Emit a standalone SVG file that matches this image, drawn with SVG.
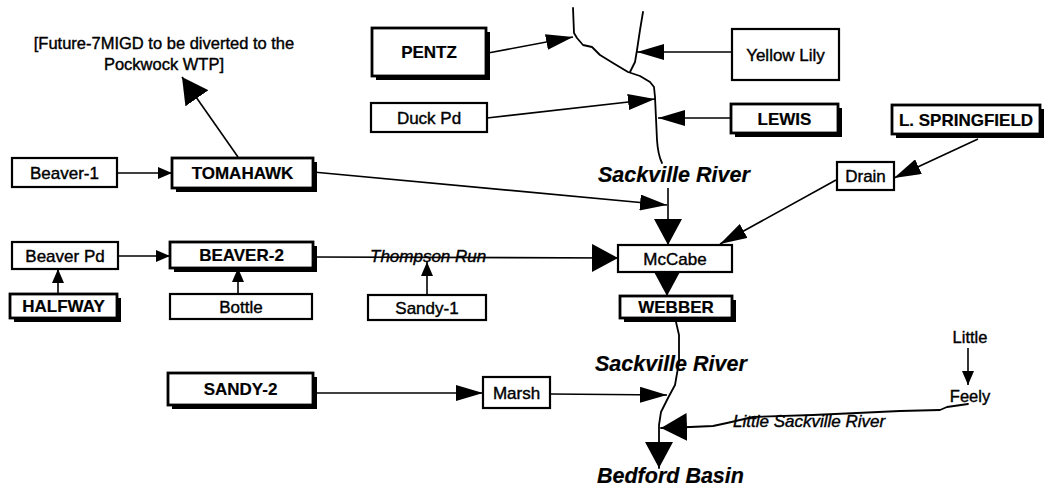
<svg xmlns="http://www.w3.org/2000/svg" width="1046" height="490" viewBox="0 0 1046 490">
<style>
text{font-family:"Liberation Sans",Arial,Helvetica,sans-serif;fill:#000;stroke:#000;stroke-width:0.4}
.n{font-size:17px;text-anchor:middle}
.b{font-weight:bold;stroke-width:0.2}
.bx{fill:#fff;stroke:#000;stroke-width:2.2}
.bb{fill:#fff;stroke:#000;stroke-width:2.8}
.sh{fill:#000}
.c{fill:none;stroke:#000;stroke-width:1.6}
.r{fill:none;stroke:#000;stroke-width:1.8;stroke-linejoin:round;stroke-linecap:round}
.riv{font-size:21.5px;font-weight:bold;font-style:italic;stroke-width:0.2}
.it{font-size:17px;font-style:italic}
.lab{font-size:16.5px}
</style>
<defs>
<marker id="arrS" markerUnits="userSpaceOnUse" viewBox="0 0 14 12" markerWidth="14" markerHeight="12" refX="14" refY="6" orient="auto"><path d="M0,0 L14,6 L0,12 z" fill="#000"/></marker>
<marker id="arrM" markerUnits="userSpaceOnUse" viewBox="0 0 27 16" markerWidth="27" markerHeight="16" refX="27" refY="8" orient="auto"><path d="M0,0 L27,8 L0,16 z" fill="#000"/></marker>
<marker id="arrL" markerUnits="userSpaceOnUse" viewBox="0 0 26 28" markerWidth="26" markerHeight="28" refX="26" refY="14" orient="auto"><path d="M0,0 L26,14 L0,28 z" fill="#000"/></marker>
</defs>
<rect width="1046" height="490" fill="#fff"/>

<g id="connectors">
<path class="c" d="M117,173 L172,173" marker-end="url(#arrS)"/>
<path class="c" d="M238,157 L182,77" marker-end="url(#arrL)"/>
<path class="c" d="M118,256 L170,256" marker-end="url(#arrS)"/>
<path class="c" d="M58,294 L58,269" marker-end="url(#arrS)"/>
<path class="c" d="M238,294 L238,268" marker-end="url(#arrS)"/>
<path class="c" d="M313,257 L618,258" marker-end="url(#arrL)"/>
<path class="c" d="M427,295 L427,262" marker-end="url(#arrS)"/>
<path class="c" d="M313,172 L667,205" marker-end="url(#arrM)"/>
<path class="c" d="M668,188 L668,245" marker-end="url(#arrL)"/>
<path class="c" d="M978,139 L894,178" marker-end="url(#arrM)"/>
<path class="c" d="M836,180 L720,244" marker-end="url(#arrM)"/>
<path class="c" d="M667,272 L667,296" marker-end="url(#arrL)"/>
<path class="c" d="M488,53 L573,37" marker-end="url(#arrM)"/>
<path class="c" d="M732,52 L637,52" marker-end="url(#arrM)"/>
<path class="c" d="M487,118 L655,99" marker-end="url(#arrM)"/>
<path class="c" d="M731,118 L658,118" marker-end="url(#arrM)"/>
<path class="c" d="M313,393 L483,393" marker-end="url(#arrM)"/>
<path class="c" d="M550,394 L667,395" marker-end="url(#arrM)"/>
<path class="c" d="M968,348 L968,385" marker-end="url(#arrS)"/>
<path class="r" d="M573,8 L574,33 L577,38 L583,45 L592,47 L600,55 L613,63 L628,72 L640,76 L650,82 L654,87 L655,97 L657,140 Q658,155 662,163"/>
<path class="r" d="M643,12 L640,30 L637,50 L635,62 L630,72"/>
<path class="r" d="M676,322 L679,335 L679,362 L675,385 L668,398 L661,412 L659,425 L659,468" marker-end="url(#arrL)"/>
<path class="r" d="M968,404 L947,407 L940,410 L900,411 L857,413 L813,415 L753,417 L727,423 L713,426 L690,427 L661,428" marker-end="url(#arrL)"/>
</g>

<g id="labels">
<text class="lab" x="164" y="49" text-anchor="middle" font-size="17">[Future-7MIGD to be diverted to the</text>
<text class="lab" x="164" y="70" text-anchor="middle" font-size="17">Pockwock WTP]</text>
<text class="riv" x="598" y="182">Sackville River</text>
<text class="riv" x="595" y="371">Sackville River</text>
<text class="riv" x="597" y="483" font-size="22">Bedford Basin</text>
<text class="it" x="370" y="262">Thompson Run</text>
<text class="it" x="733" y="427">Little Sackville River</text>
<text class="lab" x="970" y="343" text-anchor="middle">Little</text>
<text class="lab" x="970" y="402" text-anchor="middle">Feely</text>
</g>

<g id="pentz"><rect class="sh" x="376" y="32" width="114" height="48"/><rect class="bb" x="372" y="28" width="114" height="48"/><text class="n b" x="429" y="58">PENTZ</text></g>
<g id="yellow-lily"><rect class="bx" x="732" y="29" width="107" height="51"/><text class="n" x="785.5" y="60.5">Yellow Lily</text></g>
<g id="duck-pd"><rect class="bx" x="371" y="103" width="116" height="29"/><text class="n" x="429" y="123.5">Duck Pd</text></g>
<g id="lewis"><rect class="sh" x="735" y="108" width="107" height="29"/><rect class="bb" x="731" y="104" width="107" height="29"/><text class="n b" x="784.5" y="124.5">LEWIS</text></g>
<g id="l-springfield"><rect class="sh" x="896" y="109" width="148" height="29"/><rect class="bb" x="892" y="105" width="148" height="29"/><text class="n b" x="966" y="125.5">L. SPRINGFIELD</text></g>
<g id="drain"><rect class="bx" x="837" y="162" width="57" height="28"/><text class="n" x="865.5" y="182">Drain</text></g>
<g id="beaver-1"><rect class="bx" x="12" y="158" width="105" height="29"/><text class="n" x="64.5" y="178.5">Beaver-1</text></g>
<g id="tomahawk"><rect class="sh" x="176" y="162" width="141" height="30"/><rect class="bb" x="172" y="158" width="141" height="30"/><text class="n b" x="242.5" y="179">TOMAHAWK</text></g>
<g id="beaver-pd"><rect class="bx" x="12" y="242" width="106" height="27"/><text class="n" x="65" y="261.5">Beaver Pd</text></g>
<g id="beaver-2"><rect class="sh" x="174" y="246" width="143" height="26"/><rect class="bb" x="170" y="242" width="143" height="26"/><text class="n b" x="241.5" y="261">BEAVER-2</text></g>
<g id="halfway"><rect class="sh" x="14" y="298" width="107" height="24"/><rect class="bb" x="10" y="294" width="107" height="24"/><text class="n b" x="63.5" y="312">HALFWAY</text></g>
<g id="bottle"><rect class="bx" x="170" y="294" width="142" height="25"/><text class="n" x="241" y="312.5">Bottle</text></g>
<g id="sandy-1"><rect class="bx" x="368" y="295" width="118" height="25"/><text class="n" x="427" y="313.5">Sandy-1</text></g>
<g id="mccabe"><rect class="bx" x="618" y="245" width="114" height="27"/><text class="n" x="675" y="264.5">McCabe</text></g>
<g id="webber"><rect class="sh" x="624" y="300" width="112" height="22"/><rect class="bb" x="620" y="296" width="112" height="22"/><text class="n b" x="676" y="313">WEBBER</text></g>
<g id="sandy-2"><rect class="sh" x="172" y="377" width="145" height="32"/><rect class="bb" x="168" y="373" width="145" height="32"/><text class="n b" x="240.5" y="395">SANDY-2</text></g>
<g id="marsh"><rect class="bx" x="483" y="377" width="67" height="31"/><text class="n" x="516.5" y="398.5">Marsh</text></g>
</svg>
